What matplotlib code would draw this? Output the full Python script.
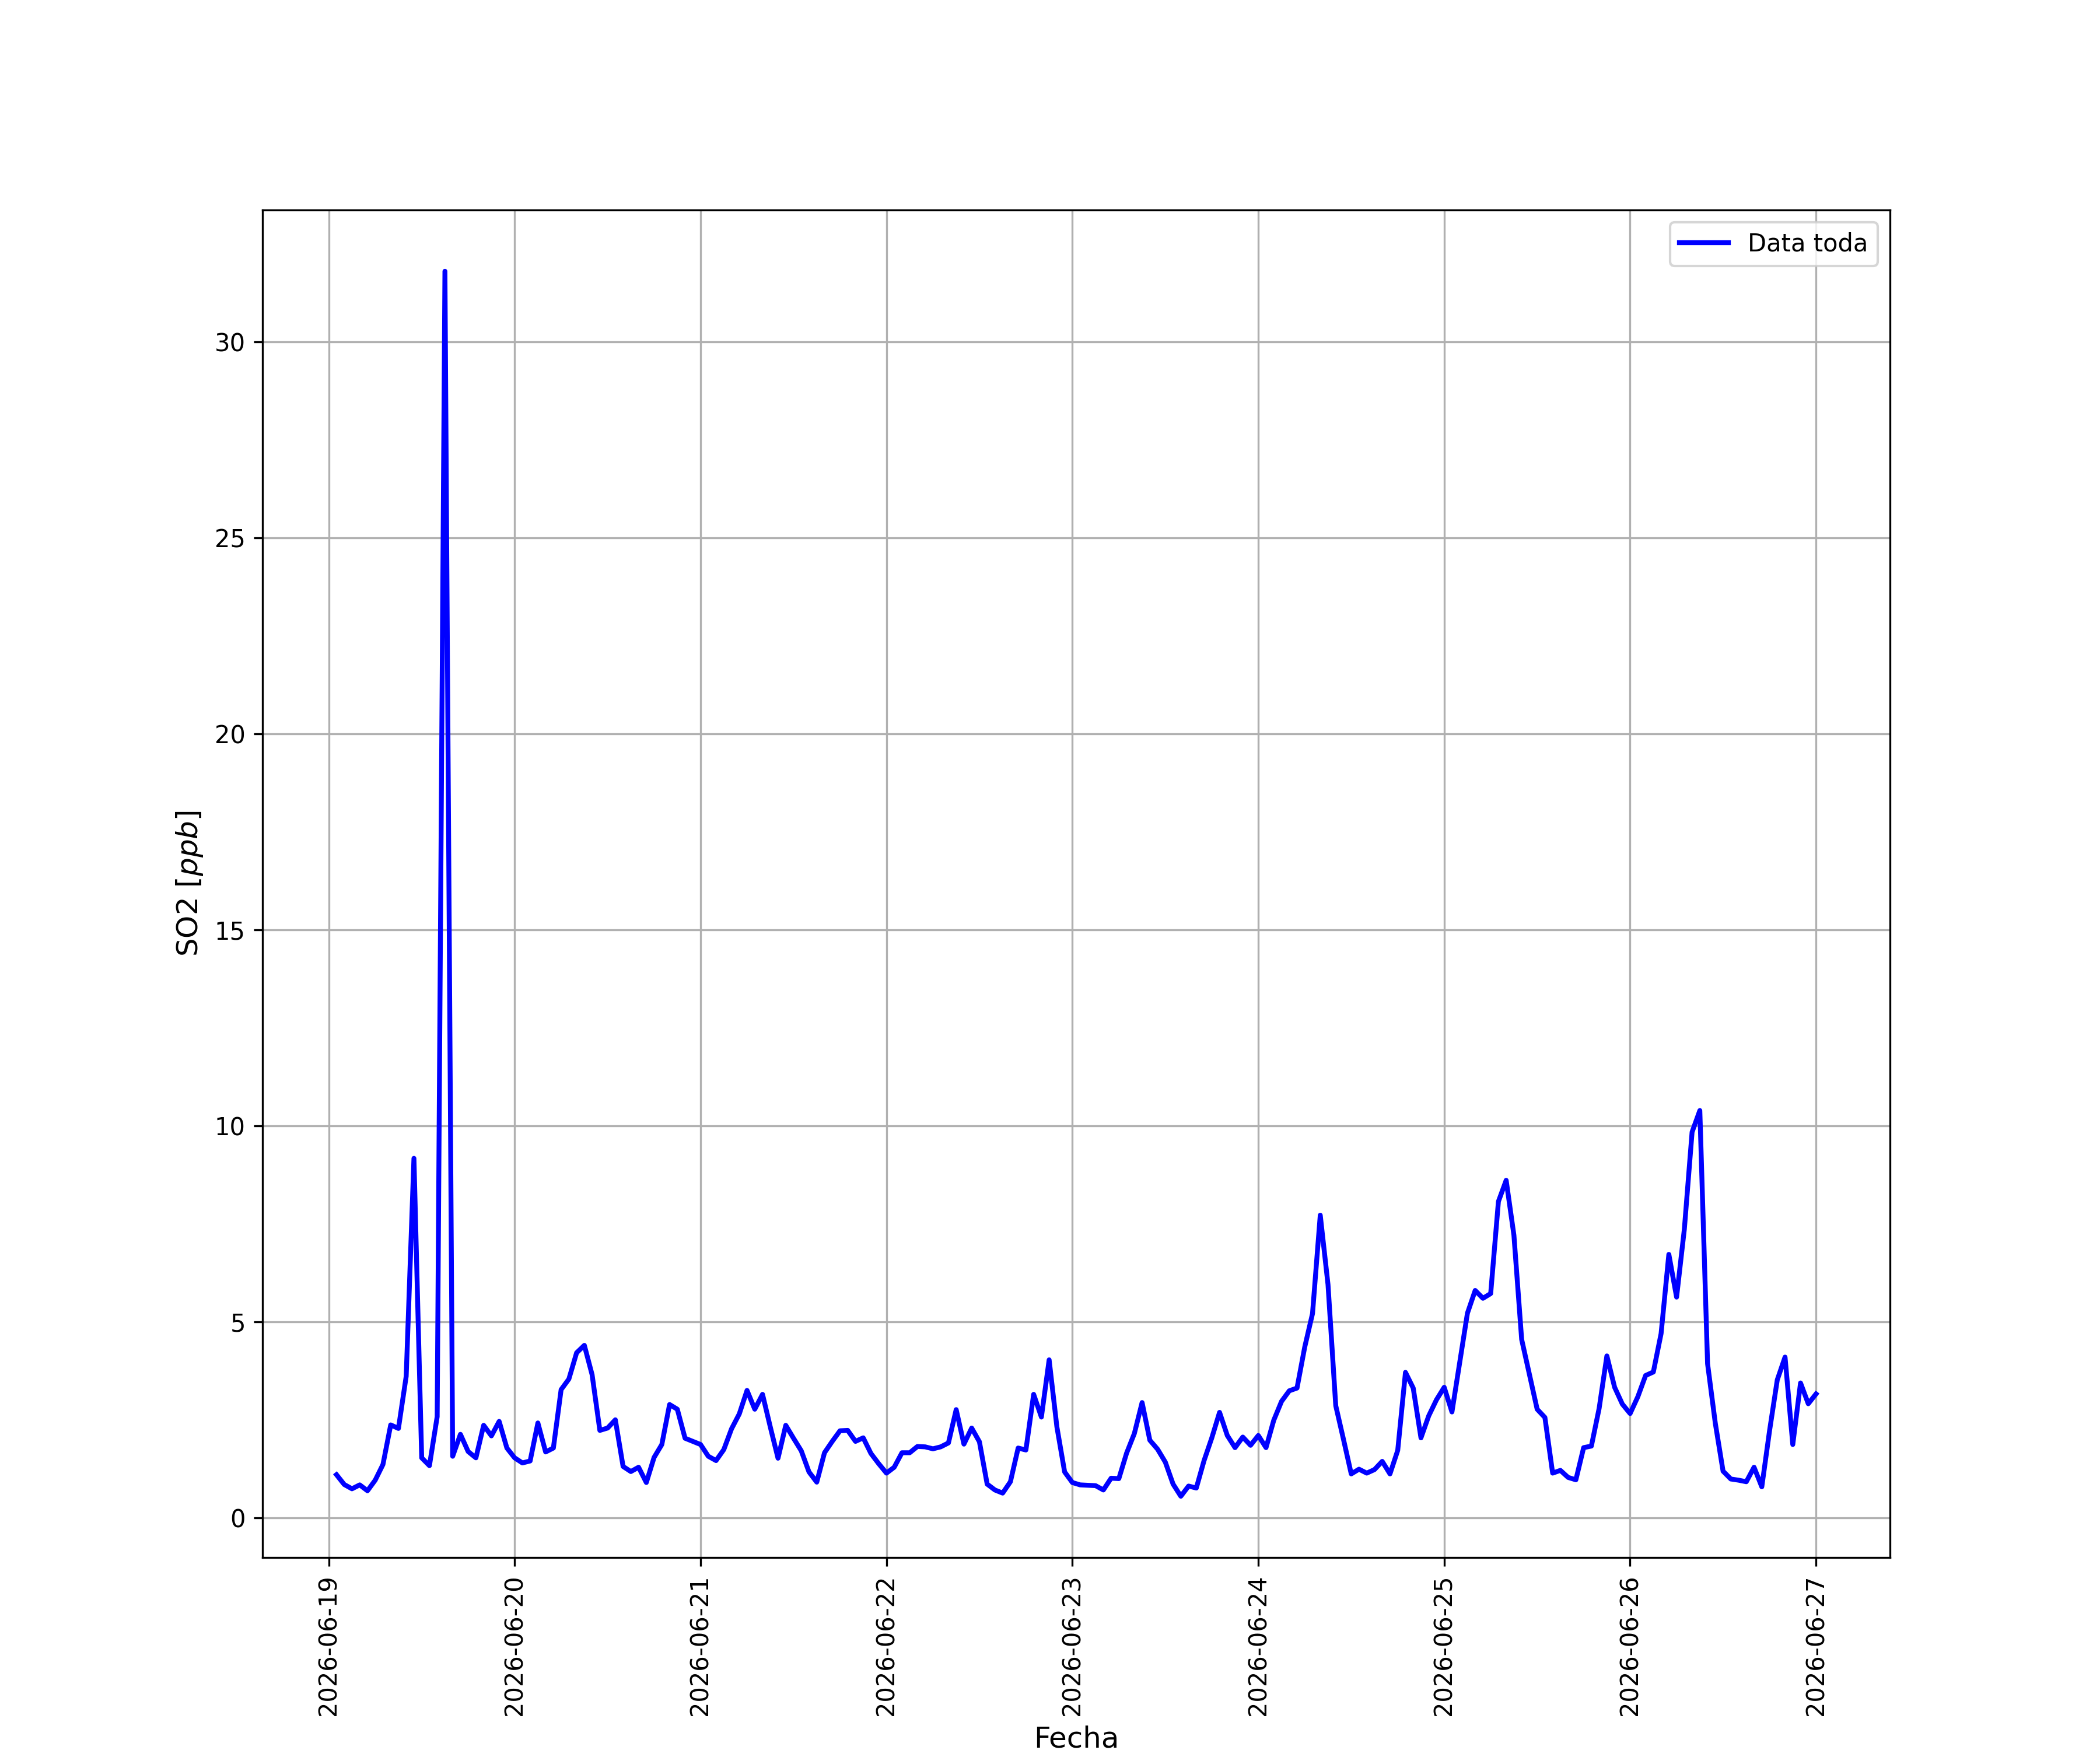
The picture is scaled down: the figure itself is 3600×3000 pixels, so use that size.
import matplotlib
matplotlib.use("Agg")
import matplotlib.pyplot as plt
import matplotlib.dates as mdates
import pandas as pd

start_time = "2026-06-19 01:00"
so2_values = [
    1.10, 0.85, 0.74, 0.84, 0.69, 0.96, 1.36, 2.37, 2.28, 3.61, 9.17, 1.53,
    1.33, 2.58, 31.80, 1.57, 2.13, 1.69, 1.53, 2.36, 2.09, 2.46, 1.78, 1.53,
    1.40, 1.45, 2.42, 1.68, 1.78, 3.27, 3.54, 4.21, 4.40, 3.65, 2.23, 2.29,
    2.50, 1.31, 1.18, 1.29, 0.90, 1.54, 1.87, 2.89, 2.77, 2.03, 1.95, 1.87,
    1.57, 1.46, 1.74, 2.27, 2.65, 3.25, 2.77, 3.15, 2.32, 1.52, 2.36, 2.03,
    1.71, 1.17, 0.91, 1.66, 1.95, 2.22, 2.23, 1.95, 2.04, 1.64, 1.38, 1.14,
    1.29, 1.66, 1.66, 1.82, 1.81, 1.76, 1.81, 1.91, 2.76, 1.88, 2.29, 1.94,
    0.86, 0.71, 0.63, 0.92, 1.78, 1.73, 3.15, 2.57, 4.03, 2.32, 1.17, 0.90,
    0.84, 0.83, 0.82, 0.71, 1.01, 1.00, 1.65, 2.15, 2.94, 1.98, 1.75, 1.42,
    0.86, 0.55, 0.81, 0.76, 1.46, 2.04, 2.69, 2.10, 1.79, 2.06, 1.85, 2.10,
    1.79, 2.49, 2.97, 3.24, 3.31, 4.36, 5.21, 7.72, 5.95, 2.86, 2.00, 1.12,
    1.24, 1.14, 1.23, 1.44, 1.12, 1.72, 3.71, 3.31, 2.04, 2.60, 3.01, 3.33,
    2.70, 3.96, 5.22, 5.80, 5.60, 5.72, 8.07, 8.61, 7.21, 4.55, 3.66, 2.77,
    2.56, 1.14, 1.21, 1.03, 0.97, 1.79, 1.83, 2.79, 4.13, 3.33, 2.90, 2.66,
    3.09, 3.63, 3.72, 4.70, 6.72, 5.63, 7.36, 9.84, 10.39, 3.93, 2.41, 1.19,
    0.99, 0.96, 0.92, 1.29, 0.79, 2.22, 3.52, 4.10, 1.87, 3.44, 2.91, 3.16,
]
series_label = "Data toda"
x_label = "Fecha"
y_label = "SO2 [$ppb$]"

times = pd.date_range(start=start_time, periods=len(so2_values), freq="h")

fig, ax = plt.subplots(figsize=(12, 10), dpi=300)
ax.plot(times, so2_values, color="blue", linewidth=2, label=series_label)
ax.xaxis.set_major_locator(mdates.DayLocator())
ax.xaxis.set_major_formatter(mdates.DateFormatter("%Y-%m-%d"))
plt.setp(ax.get_xticklabels(), rotation=90)
ax.set_xlabel(x_label, fontsize=12)
ax.set_ylabel(y_label, fontsize=12)
ax.grid(True)
ax.legend(loc="upper right")
fig.savefig("out.png", dpi=300)
